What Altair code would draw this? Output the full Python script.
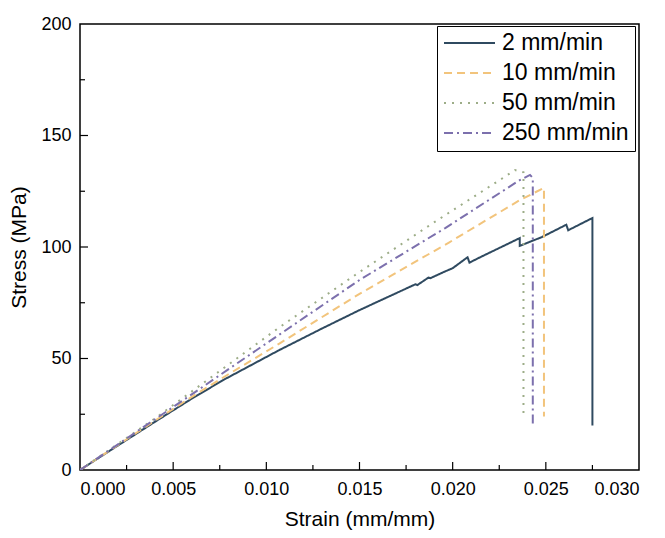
import altair as alt
import pandas as pd

# ---- data ----
series_names = ["2 mm/min", "10 mm/min", "50 mm/min", "250 mm/min"]
series_colors = ["#2f4a60", "#f2c47c", "#9dad88", "#7c70ad"]
series_dashes = [[1, 0], [8, 5], [2, 6], [9, 4, 2, 4]]

strain_2 = [0, 0.002, 0.004, 0.006, 0.0077, 0.0107, 0.013, 0.015, 0.0165, 0.0178,
            0.0180, 0.0181, 0.0187, 0.0188, 0.0195, 0.0200, 0.0208, 0.0209, 0.0215,
            0.0236, 0.0236, 0.0248, 0.0261, 0.0262, 0.0275, 0.0275]
stress_2 = [0, 10.8, 21.5, 32.0, 40.4, 53.8, 63.5, 71.7, 77.5, 82.5,
            83.3, 82.9, 86.3, 86.0, 88.7, 90.5, 95.4, 93.0, 95.5,
            104.0, 100.5, 104.5, 110.0, 107.5, 113.0, 20.0]

strain_10 = [0, 0.002, 0.004, 0.006, 0.0079, 0.0107, 0.0150, 0.0198, 0.0236, 0.0249, 0.0249]
stress_10 = [0, 11.0, 22.0, 32.8, 42.6, 56.7, 79.0, 102.0, 121.0, 126.5, 24.0]

strain_50 = [0, 0.002, 0.004, 0.0066, 0.0107, 0.0149, 0.0189, 0.02335, 0.0238, 0.0238]
stress_50 = [0, 11.5, 23.0, 38.9, 64.0, 88.2, 110.5, 134.5, 133.5, 24.5]

strain_250 = [0, 0.002, 0.004, 0.0061, 0.0079, 0.0150, 0.0196, 0.0236, 0.02415, 0.0243, 0.0243]
stress_250 = [0, 11.3, 22.6, 34.5, 44.8, 85.2, 108.5, 130.0, 132.3, 131.0, 20.0]

x_ticks = [0, 0.005, 0.010, 0.015, 0.020, 0.025, 0.030]
x_major_inner = [0.005, 0.010, 0.015, 0.020, 0.025]
x_minor = [0.0025, 0.0075, 0.0125, 0.0175, 0.0225, 0.0275]
y_ticks = [0, 50, 100, 150, 200]
y_major_inner = [50, 100, 150]
y_minor = [25, 75, 125, 175]

# ---- build tables ----
rows = []
for name, xs, ys in zip(series_names,
                        [strain_2, strain_10, strain_50, strain_250],
                        [stress_2, stress_10, stress_50, stress_250]):
    for i, (a, b) in enumerate(zip(xs, ys)):
        rows.append({"series": name, "strain": a, "stress": b, "i": i})
df = pd.DataFrame(rows)

W, H = 559, 446
FONT = "Liberation Sans"

xscale = alt.Scale(domain=[0, 0.03], nice=False, zero=False)
yscale = alt.Scale(domain=[0, 200], nice=False)

lines = alt.Chart(df).mark_line(strokeWidth=2, clip=True).encode(
    x=alt.X("strain:Q", scale=xscale,
            axis=alt.Axis(title="Strain (mm/mm)", values=x_ticks, format=".3f",
                          tickSize=0, labelPadding=10, domain=False, grid=False,
                          titlePadding=10)),
    y=alt.Y("stress:Q", scale=yscale,
            axis=alt.Axis(title="Stress (MPa)", values=y_ticks, format="d",
                          tickSize=0, labelPadding=9, domain=False, grid=False,
                          titlePadding=11)),
    color=alt.Color("series:N", sort=series_names,
                    scale=alt.Scale(domain=series_names, range=series_colors),
                    legend=alt.Legend(title=None, orient="none", legendX=357, legendY=2,
                                      symbolType="stroke", symbolSize=2600,
                                      symbolStrokeWidth=2, labelFontSize=23,
                                      labelFont=FONT, labelColor="#000",
                                      clipHeight=22, rowPadding=7, padding=6,
                                      strokeColor="#000", labelOffset=6,
                                      fillColor="white")),
    strokeDash=alt.StrokeDash("series:N", sort=series_names,
                              scale=alt.Scale(domain=series_names, range=series_dashes),
                              legend=None),
    order="i:Q",
)

xmaj = alt.Chart(pd.DataFrame({"t": x_major_inner})).mark_rule(color="#000", strokeWidth=1.2).encode(
    x=alt.X("t:Q", scale=xscale), y=alt.value(H), y2=alt.value(H - 8))
xmin = alt.Chart(pd.DataFrame({"t": x_minor})).mark_rule(color="#000", strokeWidth=1.2).encode(
    x=alt.X("t:Q", scale=xscale), y=alt.value(H), y2=alt.value(H - 5))
ymaj = alt.Chart(pd.DataFrame({"t": y_major_inner})).mark_rule(color="#000", strokeWidth=1.2).encode(
    y=alt.Y("t:Q", scale=yscale), x=alt.value(0), x2=alt.value(8))
ymin = alt.Chart(pd.DataFrame({"t": y_minor})).mark_rule(color="#000", strokeWidth=1.2).encode(
    y=alt.Y("t:Q", scale=yscale), x=alt.value(0), x2=alt.value(5))

chart = alt.layer(lines, xmaj, xmin, ymaj, ymin).properties(
    width=W, height=H,
    autosize=alt.AutoSizeParams(type="none"),
    padding={"left": 72, "top": 16, "right": 10, "bottom": 60},
    background="white",
).configure_view(
    stroke="#000", strokeWidth=1.5
).configure_axis(
    labelFont=FONT, titleFont=FONT, labelFontSize=18, titleFontSize=21,
    labelColor="#000", titleColor="#000", titleFontWeight="normal"
)

chart.save("out.html", embed_options={"renderer": "svg", "actions": False})
